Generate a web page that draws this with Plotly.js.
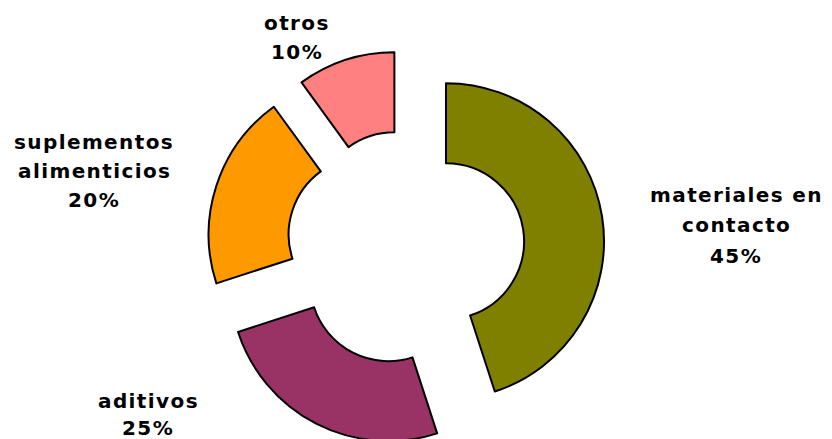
<!DOCTYPE html>
<html>
<head>
<meta charset="utf-8">
<script src="https://cdn.plot.ly/plotly-3.0.1.min.js"></script>
<style>
  html, body { margin: 0; padding: 0; background: #ffffff; overflow: hidden; }
  #chart { width: 832px; height: 448px; }
  .annotation-text { letter-spacing: 1.4px; }
</style>
</head>
<body>
<div id="chart"></div>
<script>
// ---- data ----
const categories = ['materiales en contacto', 'aditivos', 'suplementos alimenticios', 'otros'];
const labelLines = [['materiales en', 'contacto'], ['aditivos'], ['suplementos', 'alimenticios'], ['otros']];
const values = [45, 25, 20, 10];
const colors = ['#808000', '#993366', '#FF9900', '#FF8080'];

// ---- styles / positions (pixels) ----
const W = 832, H = 448;
const pulls = [0.253, 0.253, 0.265, 0.248];
const labelX = [736, 148, 94, 297];
const labelY = [[195, 225, 256], [401, 428], [142, 171, 200], [23, 52]];

const total = values.reduce((a, b) => a + b, 0);

const trace = {
  type: 'pie',
  labels: categories,
  values: values,
  sort: false,
  direction: 'clockwise',
  rotation: 0,
  hole: 0.494,
  pull: pulls,
  textinfo: 'none',
  hoverinfo: 'skip',
  marker: { colors: colors, line: { color: '#000000', width: 2 } },
  domain: { x: [206.6 / W, 606.4 / W], y: [1 - 447.4 / H, 1 - 47.6 / H] },
  showlegend: false
};

const annotations = [];
labelLines.forEach((lines, i) => {
  const pct = Math.round(values[i] / total * 100) + '%';
  const all = lines.concat([pct]);
  all.forEach((t, k) => {
    annotations.push({
      text: t,
      xref: 'paper', yref: 'paper',
      x: labelX[i] / W,
      y: 1 - labelY[i][k] / H,
      xanchor: 'center', yanchor: 'middle',
      showarrow: false,
      font: { family: 'DejaVu Sans', size: 20, color: '#000000', weight: 'bold' }
    });
  });
});

const layout = {
  width: W, height: H,
  margin: { l: 0, r: 0, t: 0, b: 0 },
  paper_bgcolor: '#ffffff',
  plot_bgcolor: '#ffffff',
  showlegend: false,
  annotations: annotations
};

Plotly.newPlot('chart', [trace], layout, { displayModeBar: false, staticPlot: true });
</script>
</body>
</html>
